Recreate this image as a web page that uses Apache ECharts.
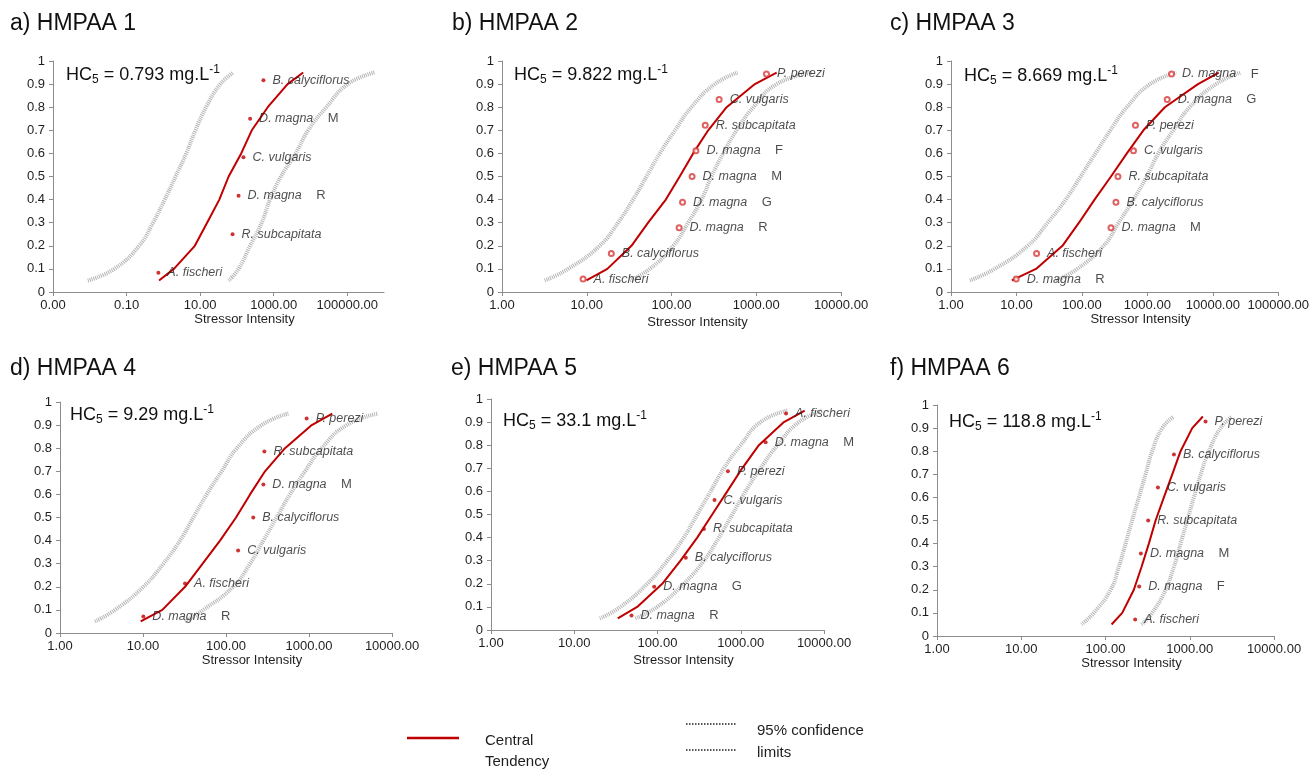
<!DOCTYPE html>
<html>
<head>
<meta charset="utf-8">
<script src="https://cdn.jsdelivr.net/npm/echarts@6/dist/echarts.min.js"></script>
<style>
html,body{margin:0;padding:0;background:#fff;}
#main{width:1312px;height:771px;}
</style>
</head>
<body>
<div id="main"></div>
<script>
// cumulative levels used by the fitted curves
var yLevels = [0.05,0.1,0.2,0.3,0.4,0.5,0.6,0.7,0.8,0.9,0.95];

// a) HMPAA 1
var centralA = [0.764,1.94,7.18,15.5,33.3,59.6,131,254,689,2390,6340];
var lowerA = [0.00883,0.0465,0.22,0.525,1.09,2.15,4.19,7.48,14.5,35.5,81.3];
var upperA = [59.6,111,229,474,794,1580,3980,8650,27000,104000,548000];
var speciesA = ['A. fischeri','R. subcapitata','D. magna R','C. vulgaris','D. magna M','B. calyciflorus'];
var xA = [0.733,76.4,111,151,229,527];
var yA = [0.083,0.25,0.417,0.583,0.75,0.917];

// b) HMPAA 2
var centralB = [9.91,17.5,33.7,53.0,85.7,125,180,271,447,964,1740];
var lowerB = [3.19,6.03,14.2,23.4,35.2,50.7,72.8,110,172,325,603];
var upperB = [32.2,55.5,105,157,226,296,407,586,923,1740,4500];
var speciesB = ['A. fischeri','B. calyciflorus','D. magna R','D. magna G','D. magna M','D. magna F','R. subcapitata','C. vulgaris','P. perezi'];
var xB = [9.05,19.5,123,135,175,194,250,365,1320];
var yB = [0.056,0.167,0.278,0.389,0.5,0.611,0.722,0.833,0.944];

// c) HMPAA 3
var centralC = [8.49,19.9,50.4,90.2,156,278,486,869,1850,5930,12300];
var lowerC = [1.94,4.65,14.9,29.9,56.6,95.5,161,272,486,1100,2780];
var upperC = [39.9,84.9,215,364,614,977,1470,2480,4430,11200,26900];
var speciesC = ['D. magna R','A. fischeri','D. magna M','B. calyciflorus','R. subcapitata','C. vulgaris','P. perezi','D. magna G','D. magna F'];
var xC = [9.9,20.3,278,331,355,614,658,2010,2340];
var yC = [0.056,0.167,0.278,0.389,0.5,0.611,0.722,0.833,0.944];

// d) HMPAA 4
var centralD = [9.38,17.1,32.1,52.3,84.7,132,195,295,514,1080,1910];
var lowerD = [2.64,4.6,10.1,17.6,27.9,40.4,58.5,88.7,135,269,564];
var upperD = [32.1,53.3,122,195,282,407,590,895,1420,2840,6840];
var speciesD = ['D. magna R','A. fischeri','C. vulgaris','B. calyciflorus','D. magna M','R. subcapitata','P. perezi'];
var xD = [10.1,32.1,140,213,282,290,937];
var yD = [0.071,0.214,0.357,0.5,0.643,0.786,0.929];

// e) HMPAA 5
var centralE = [33.3,57.0,114,189,300,454,688,1040,1650,3300,5860];
var lowerE = [20.3,35.9,75.2,131,207,300,434,628,995,1730,3620];
var upperE = [54.3,99.1,207,361,546,791,1140,1730,2750,5000,9550];
var speciesE = ['D. magna R','D. magna G','B. calyciflorus','R. subcapitata','C. vulgaris','P. perezi','D. magna M','A. fischeri'];
var xE = [48.7,91.2,219,361,484,701,1990,3500];
var yE = [0.0625,0.1875,0.3125,0.4375,0.5625,0.6875,0.8125,0.9375];

// f) HMPAA 6
var centralF = [118,158,217,268,327,393,493,620,778,1070,1430];
var lowerF = [51.9,72.6,115,144,173,207,249,299,358,471,649];
var upperF = [268,358,516,649,778,933,1120,1350,1690,2320,3200];
var speciesF = ['A. fischeri','D. magna F','D. magna M','R. subcapitata','C. vulgaris','B. calyciflorus','P. perezi'];
var xF = [225,251,263,321,419,649,1540];
var yF = [0.071,0.214,0.357,0.5,0.643,0.786,0.929];

var panelTitles = ['a) HMPAA 1','b) HMPAA 2','c) HMPAA 3','d) HMPAA 4','e) HMPAA 5','f) HMPAA 6'];
var hc5Values = ['0.793','9.822','8.669','9.29','33.1','118.8'];
var ticksA = [0.001,0.1,10,1000,100000];
var ticksDec4 = [1,10,100,1000,10000];
var ticksDec5 = [1,10,100,1000,10000,100000];

var red = '#c00000';
var txt = '#1e1e1e';
var axisCol = '#8c8c8c';
var font = 'Liberation Sans';

// layout of the six plots
var layout = [
    {left:53, top:61, width:331, height:231, min:0.001, max:1000000, ticks:ticksA, gap:21, tx:10, ty:12, hx:66, hy:64},
    {left:502, top:61, width:339, height:231, min:1, max:10000, ticks:ticksDec4, gap:24, tx:452, ty:12, hx:514, hy:64},
    {left:951, top:61, width:330, height:231, min:1, max:100000, ticks:ticksDec5, gap:20, tx:890, ty:12, hx:964, hy:65},
    {left:60, top:402, width:332, height:231, min:1, max:10000, ticks:ticksDec4, gap:21, tx:10, ty:357, hx:70, hy:404},
    {left:491, top:399, width:333, height:231, min:1, max:10000, ticks:ticksDec4, gap:24, tx:451, ty:357, hx:503, hy:410},
    {left:937, top:405, width:337, height:231, min:1, max:10000, ticks:ticksDec4, gap:17, tx:890, ty:357, hx:949, hy:411}
];
var panels = [
    {central:centralA, lower:lowerA, upper:upperA, names:speciesA, xs:xA, ys:yA, hollow:false},
    {central:centralB, lower:lowerB, upper:upperB, names:speciesB, xs:xB, ys:yB, hollow:true},
    {central:centralC, lower:lowerC, upper:upperC, names:speciesC, xs:xC, ys:yC, hollow:true},
    {central:centralD, lower:lowerD, upper:upperD, names:speciesD, xs:xD, ys:yD, hollow:false},
    {central:centralE, lower:lowerE, upper:upperE, names:speciesE, xs:xE, ys:yE, hollow:false},
    {central:centralF, lower:lowerF, upper:upperF, names:speciesF, xs:xF, ys:yF, hollow:false}
];

function curve(xs){
    var out = [];
    for(var k=0;k<xs.length;k++){ out.push([xs[k], yLevels[k]]); }
    return out;
}
function speciesLabel(p){
    var s = p.data[2];
    var m = s.match(/^(.*) ([A-Z])$/);
    if(m){ return '{i|'+m[1]+'}{u|    '+m[2]+'}'; }
    return '{i|'+s+'}';
}

var grid=[], xAxis=[], yAxis=[], series=[], title=[];
for(var i=0;i<6;i++){
    var L = layout[i], P = panels[i];
    grid.push({left:L.left, top:L.top, width:L.width, height:L.height});
    xAxis.push({
        gridIndex:i, type:'log', logBase:10, min:L.min, max:L.max,
        axisLine:{show:true, lineStyle:{color:axisCol, width:1}},
        axisTick:{show:true, length:4, customValues:L.ticks, lineStyle:{color:axisCol}},
        axisLabel:{customValues:L.ticks, fontSize:13, fontFamily:font, color:txt, margin:7,
            formatter:function(v){ return Number(v).toFixed(2); }},
        splitLine:{show:false}, minorTick:{show:false},
        name:'Stressor Intensity', nameLocation:'middle', nameGap:L.gap,
        nameTextStyle:{fontSize:13, fontFamily:font, color:txt, padding:[0,0,0,52]}
    });
    yAxis.push({
        gridIndex:i, type:'value', min:0, max:1, interval:0.1,
        axisLine:{show:true, lineStyle:{color:axisCol, width:1}},
        axisTick:{show:true, length:4, lineStyle:{color:axisCol}},
        axisLabel:{fontSize:13, fontFamily:font, color:txt, margin:8},
        splitLine:{show:false}
    });
    // 95% confidence limits
    series.push({type:'line', xAxisIndex:i, yAxisIndex:i, data:curve(P.lower), smooth:true, symbol:'none', silent:true, z:2,
        lineStyle:{color:'#b4b4b4', width:4, type:[1,1]}});
    series.push({type:'line', xAxisIndex:i, yAxisIndex:i, data:curve(P.upper), smooth:true, symbol:'none', silent:true, z:2,
        lineStyle:{color:'#b4b4b4', width:4, type:[1,1]}});
    // central tendency
    series.push({type:'line', xAxisIndex:i, yAxisIndex:i, data:curve(P.central), symbol:'none', silent:true, z:3,
        lineStyle:{color:red, width:2}});
    var pts = [];
    for(var k=0;k<P.xs.length;k++){ pts.push([P.xs[k], P.ys[k], P.names[k]]); }
    series.push({type:'scatter', xAxisIndex:i, yAxisIndex:i, data:pts, z:4,
        symbol:P.hollow?'emptyCircle':'circle', symbolSize:P.hollow?5:4,
        itemStyle:P.hollow?{color:'#d83a3a', borderWidth:1}:{color:red},
        label:{show:true, position:'right', distance:7, formatter:speciesLabel,
            rich:{
                i:{fontStyle:'italic', fontSize:12.5, fontFamily:font, color:txt},
                u:{fontSize:13, fontFamily:font, color:txt}
            }}
    });
    title.push({text:panelTitles[i], left:L.tx, top:L.ty, padding:0,
        textStyle:{fontSize:23, fontWeight:'normal', fontFamily:font, color:'#111'}});
    title.push({text:'{n|HC}{s|5}{n| = '+hc5Values[i]+' mg.L}{p|-1}', left:L.hx, top:L.hy, padding:0,
        textStyle:{fontWeight:'normal', rich:{
            n:{fontSize:18, fontWeight:'normal', fontFamily:font, color:'#111'},
            s:{fontSize:12, fontWeight:'normal', fontFamily:font, color:'#111', padding:[10,0,0,0]},
            p:{fontSize:12, fontWeight:'normal', fontFamily:font, color:'#111', padding:[0,0,10,0]}
        }}});
}

var chart = echarts.init(document.getElementById('main'), null, {renderer:'canvas'});
chart.setOption({
    animation:false,
    backgroundColor:'#fff',
    title:title,
    grid:grid,
    xAxis:xAxis,
    yAxis:yAxis,
    series:series,
    graphic:[
        {type:'line', shape:{x1:407,y1:738,x2:459,y2:738}, style:{stroke:red, lineWidth:2.5}},
        {type:'text', style:{text:'Central', x:485, y:741, font:'15px "Liberation Sans"', fill:txt, verticalAlign:'middle'}},
        {type:'text', style:{text:'Tendency', x:485, y:762, font:'15px "Liberation Sans"', fill:txt, verticalAlign:'middle'}},
        {type:'line', shape:{x1:686,y1:724,x2:737,y2:724}, style:{stroke:'#222', lineWidth:1.5, lineDash:[1.5,1.5]}},
        {type:'line', shape:{x1:686,y1:750,x2:737,y2:750}, style:{stroke:'#222', lineWidth:1.5, lineDash:[1.5,1.5]}},
        {type:'text', style:{text:'95% confidence', x:757, y:731, font:'15px "Liberation Sans"', fill:txt, verticalAlign:'middle'}},
        {type:'text', style:{text:'limits', x:757, y:753, font:'15px "Liberation Sans"', fill:txt, verticalAlign:'middle'}}
    ]
});
</script>
</body>
</html>
